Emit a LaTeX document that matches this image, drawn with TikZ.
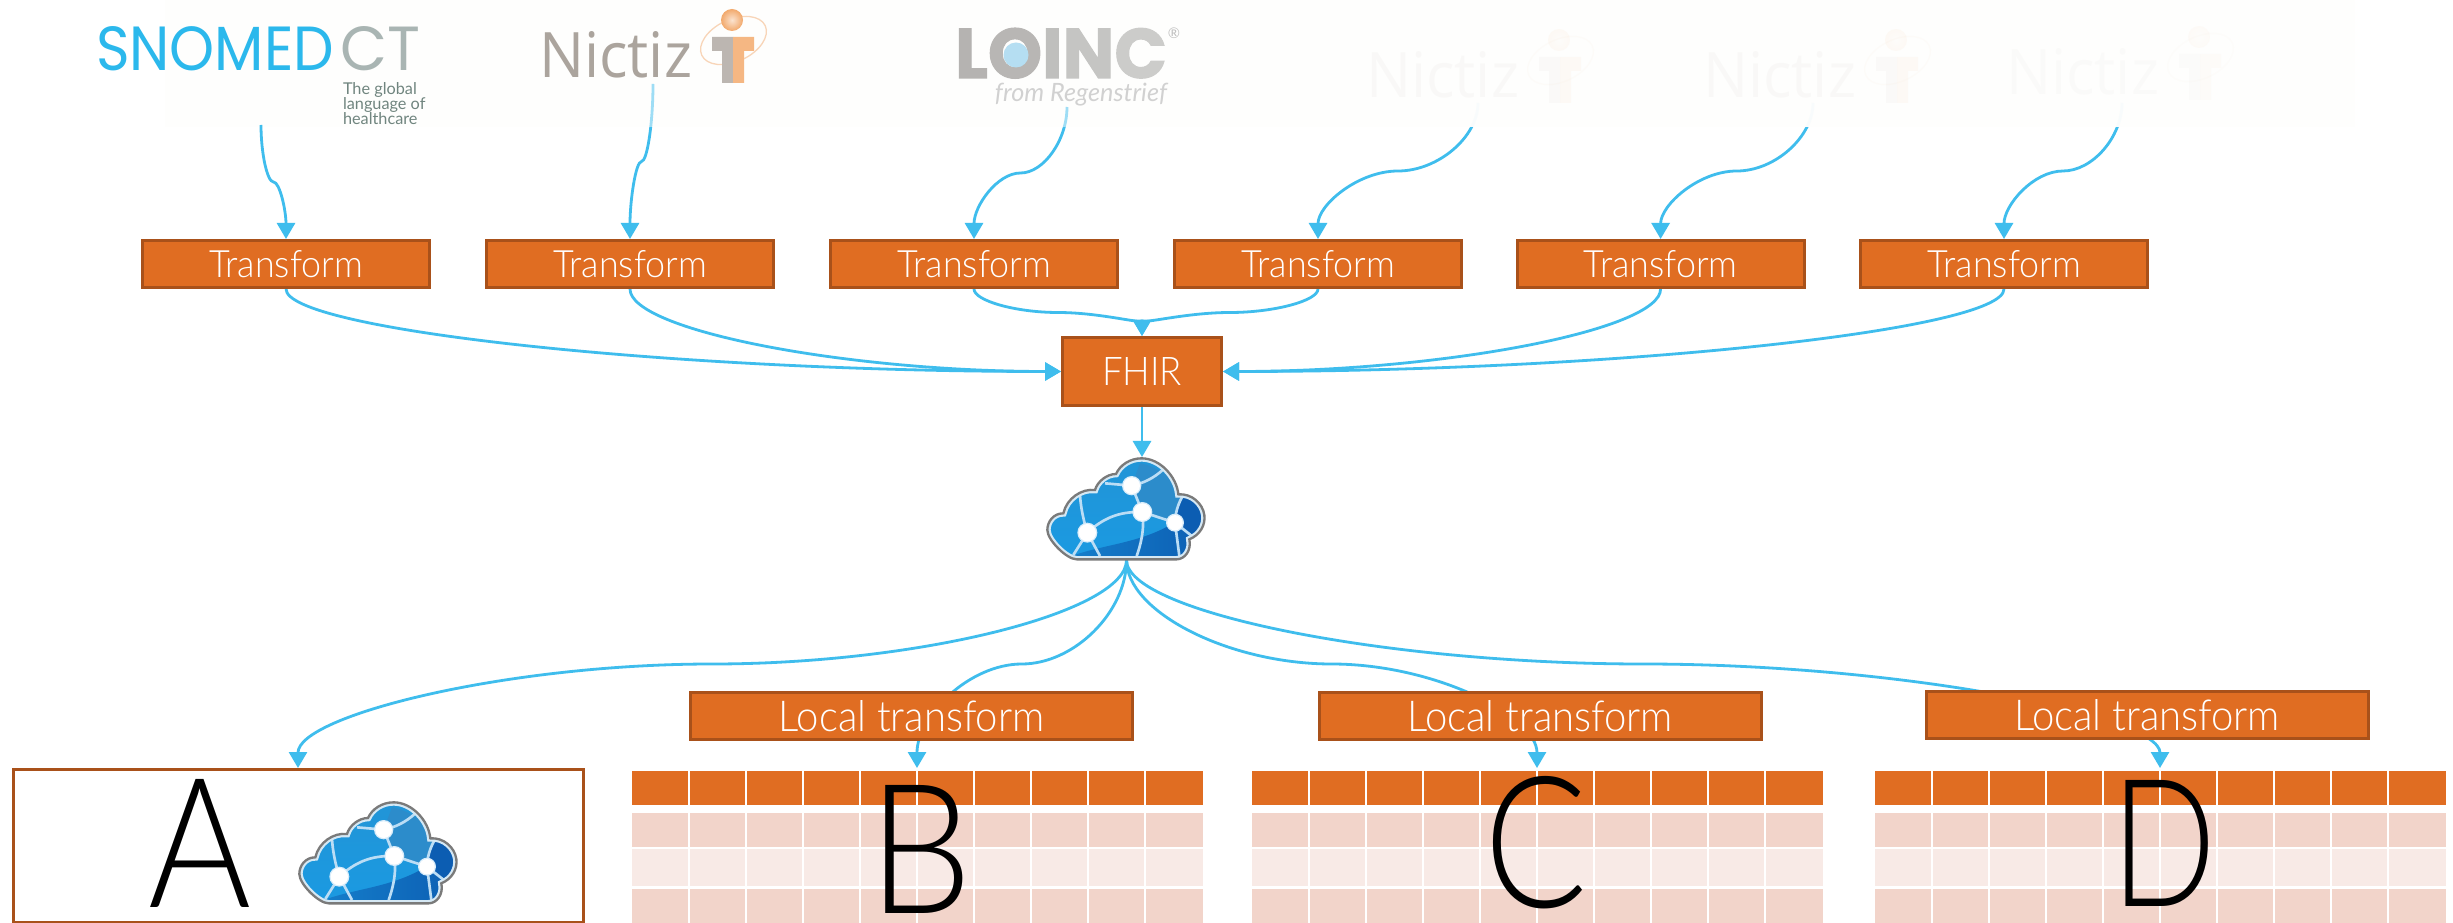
\documentclass[tikz,border=0pt]{standalone}
\usepackage{fontspec}
\usepackage{graphicx}
\setmainfont{Lato}
\newfontfamily\lightf{Lato Light}
\newfontfamily\popf{Poppins}
\newfontfamily\latof{Lato}
\newfontfamily\opensf{Open Sans}
\newfontfamily\loincf[BoldFeatures={FakeBold=1.5}]{Poppins}
\usetikzlibrary{arrows.meta,calc}
\pgfdeclarelayer{bg}\pgfdeclarelayer{conn}\pgfdeclarelayer{fade}
\pgfsetlayers{bg,conn,fade,main}
\def\px{*0.75pt}
\newdimen\ptx \ptx=0.75pt
\newcommand{\wtext}[3]{\resizebox{#1\ptx}{#2\ptx}{\lightf #3}}
\newcommand{\bigletter}[3]{\resizebox{#1\ptx}{#2\ptx}{\lightf #3}}
\definecolor{boxfill}{HTML}{E06D22}
\definecolor{boxline}{HTML}{A9511A}
\definecolor{conncol}{HTML}{3FBDED}
\definecolor{rowa}{HTML}{F2D4CA}
\definecolor{rowb}{HTML}{F8EAE6}
\definecolor{snoblue}{HTML}{2BB8EC}
\definecolor{snogrey}{HTML}{A9B5B3}
\definecolor{snotag}{HTML}{70857F}
\definecolor{nicgrey}{HTML}{ABA49D}
\definecolor{nicorange}{HTML}{F5B783}
\definecolor{nicball}{HTML}{F2A96C}
\definecolor{nicshine}{HTML}{FBE3CF}
\definecolor{nicring}{HTML}{F8D5B8}
\definecolor{tint}{HTML}{FEFEFD}
\definecolor{loincblue}{HTML}{B5DEF2}
\definecolor{cloudtop}{HTML}{2294D6}
\definecolor{cloudmid}{HTML}{1A9AE2}
\definecolor{cloudlow}{HTML}{1580CC}
\definecolor{clouddark}{HTML}{0C5DB2}
\definecolor{cloudhi}{HTML}{2C8CCB}
\definecolor{cloudline}{HTML}{BBDDF5}
\definecolor{cloudedge}{HTML}{D5E8F4}
\definecolor{cloudgrey}{HTML}{7A7A7A}
\definecolor{cloudhalo}{HTML}{D8ECFA}
\tikzset{
  obox/.style={draw=boxline,fill=boxfill,line width=3\px,text=white,inner sep=0pt,outer sep=1.5\px,minimum width=287\px,minimum height=47\px},
  ltbox/.style={obox,minimum width=442\px},
  hidden/.style={inner sep=0pt,outer sep=0pt},
  conn/.style={draw=conncol,line width=2.8\px,-{Triangle[length=16\px,width=18\px]}},
  sconn/.style={to path={let \p1=(\tikztostart),\p2=(\tikztotarget) in
    .. controls (\x1,{(3*\y1+\y2)/4}) and ({(3*\x1+\x2)/4},{(\y1+\y2)/2}) .. ({(\x1+\x2)/2},{(\y1+\y2)/2})
    .. controls ({(\x1+3*\x2)/4},{(\y1+\y2)/2}) and (\x2,{(\y1+3*\y2)/4}) .. (\tikztotarget)}},
  qconn/.style={to path={let \p1=(\tikztostart),\p2=(\tikztotarget) in
    .. controls (\x1,{(\y1+\y2)/2}) and ({(\x1+\x2)/2},\y2) .. (\tikztotarget)}},
  nictiz/.pic={
    \draw[draw=nicring,line width=1.3\px] (190.5,40.5) ellipse [x radius=35,y radius=21,rotate=25];
    \shade[inner color=nicshine,outer color=nicball] (189,20) circle (11);
    \fill[nicgrey!80] (169,37) rectangle (190,51) (179,51) rectangle (190,83);
    \fill[nicorange] (190,37) rectangle (211,51) (190,51) rectangle (201,83);
    \node[hidden,anchor=base west,text=nicgrey] (txt) at (-4,78) {\resizebox{153\ptx}{46\ptx}{\opensf Nictiz}};
  },
  cloudpic/.pic={
    \begin{scope}[shift={(-86,-59)},x=.25pt,y=-.25pt]
      \def\cloudpath{(110,328) -- (410,328) .. controls (435,328) and (455,300) .. (448,268)
        .. controls (480,255) and (497,225) .. (493,195)
        .. controls (488,160) and (455,130) .. (415,133)
        .. controls (410,80) and (360,25) .. (305,25)
        .. controls (270,25) and (240,45) .. (228,72)
        .. controls (200,72) and (172,95) .. (165,120)
        .. controls (125,115) and (80,145) .. (70,190)
        .. controls (40,190) and (22,215) .. (22,240)
        .. controls (22,270) and (80,328) .. (110,328) -- cycle}
      \begin{scope}
        \clip \cloudpath;
        \shade[top color=cloudtop,bottom color=cloudmid] (0,0) rectangle (520,340);
        \fill[cloudhi] (300,40) .. controls (360,50) and (420,100) .. (425,140) -- (405,218) -- (307,186) -- (275,107) -- cycle;
        \shade[left color=cloudlow,right color=clouddark] (60,340) -- (90,320) .. controls (180,285) and (300,280) .. (395,222) -- (520,240) -- (520,340) -- cycle;
        \fill[clouddark] (425,135) -- (405,218) -- (455,260) -- (520,260) -- (520,120) -- cycle;
        \draw[cloudline,line width=8*.25pt,fill=none]
          (120,135) .. controls (122,170) and (130,210) .. (142,248)
          (142,248) -- (100,315) (142,248) -- (180,318)
          (142,248) .. controls (200,195) and (250,185) .. (307,186)
          (307,186) -- (275,107) (307,186) -- (405,218)
          (307,186) .. controls (315,240) and (300,290) .. (290,318)
          (405,218) .. controls (405,190) and (415,160) .. (428,138)
          (405,218) -- (418,318) (405,218) -- (458,260)
          (275,107) .. controls (310,100) and (340,85) .. (368,60)
          (275,107) -- (195,100);
        \draw[cloudedge,line width=20*.25pt] \cloudpath;
      \end{scope}
      \draw[cloudgrey,line width=7*.25pt] \cloudpath;
      \foreach \cx/\cy/\cr in {142/248/30,307/186/30,405/218/27,275/107/29}{
        \fill[cloudhalo] (\cx,\cy) circle ({\cr*.25pt});
        \fill[white] (\cx,\cy) circle ({(\cr-4)*.25pt});
      }
    \end{scope}
  },
  tablegrid/.pic={
    \fill[boxfill] (0,1) rectangle (571,35);
    \fill[rowa] (0,43) rectangle (571,77);
    \fill[rowb] (0,79) rectangle (571,116);
    \fill[rowa] (0,119) rectangle (571,153);
    \foreach \k in {1,...,9}{\draw[white,line width=2\px] ({\k*57.1},0) -- ({\k*57.1},153);}
  },
}
\begin{document}
\begin{tikzpicture}[x=0.75pt,y=-0.75pt]
\useasboundingbox (0,0) rectangle (2453,923);
\begin{pgfonlayer}{bg}
  \fill[white] (0,0) rectangle (2453,923);
  \fill[tint] (165,0) rectangle (2355,127);
\end{pgfonlayer}
\begin{pgfonlayer}{fade}
  \fill[tint,opacity=.5] (530,0) rectangle (1250,127);
  \fill[tint,opacity=.97] (1250,0) rectangle (2355,127);
\end{pgfonlayer}

% logo frames (connector start points)
\node[hidden,minimum width=326\px,minimum height=125\px] (logoA) at (261,62.5) {};
\node[hidden,minimum width=222\px,minimum height=84\px] (logoB) at (653,42) {};
\node[hidden,minimum width=223\px,minimum height=107\px] (logoC) at (1067,53.5) {};
\node[hidden,minimum width=222\px,minimum height=103\px] (logoD) at (1478,51.5) {};
\node[hidden,minimum width=222\px,minimum height=103\px] (logoE) at (1813,51.5) {};
\node[hidden,minimum width=222\px,minimum height=103\px] (logoF) at (2122,51.5) {};

% SNOMED CT
\node[hidden,anchor=base west,text=snoblue] (sno) at (96,71) {\resizebox{238\ptx}{44\ptx}{\popf SNOMED}};
\node[hidden,anchor=base west,text=snogrey] (ct) at (340,71) {\resizebox{80\ptx}{44\ptx}{\popf CT}};
\node[hidden,anchor=north west,text=snotag,align=left,font=\latof\fontsize{12.2}{11.25}\selectfont] (tag) at (343,83) {The global\\language of\\healthcare};

% Nictiz logos
\pic (nicA) at (543,0) {nictiz};
\pic[opacity=.06] (nicB) at (1370,20) {nictiz};
\pic[opacity=.06] (nicC) at (1707,20) {nictiz};
\pic[opacity=.04] (nicD) at (2010,17) {nictiz};

% LOINC
\node[hidden,anchor=base west] (loinc) at (955,78) {\resizebox{212\ptx}{50\ptx}{\loincf\bfseries\textcolor[HTML]{B5B3B1}{L}\textcolor[HTML]{B8B6B4}{O}\textcolor[HTML]{BFBFBD}{I}\textcolor[HTML]{C5C5C3}{N}\textcolor[HTML]{CCCCCA}{C}}};
\fill[loincblue] (1016,55) circle (12.5);
\node[hidden,anchor=center,text=black!18] (reg) at (1081,95) {\resizebox{172\ptx}{!}{\latof\itshape from Regenstrief}};
\node[hidden,text=black!25] (regmark) at (1174,33) {\fontsize{11}{12}\selectfont\latof ®};

% transforms
\node[obox] (t1) at (286,264) {\wtext{154}{27}{Transform}};
\node[obox] (t2) at (630,264) {\wtext{154}{27}{Transform}};
\node[obox] (t3) at (974,264) {\wtext{154}{27}{Transform}};
\node[obox] (t4) at (1318,264) {\wtext{154}{27}{Transform}};
\node[obox] (t5) at (1660.6,264) {\wtext{154}{27}{Transform}};
\node[obox] (t6) at (2004,264) {\wtext{154}{27}{Transform}};
\node[obox,minimum width=159\px,minimum height=68\px] (fhir) at (1142,371.5) {\wtext{80}{28}{FHIR}};

% cloud
\node[hidden,minimum width=158\px,minimum height=103\px] (cloud) at (1126.5,508.5) {};
\pic at (1126,509) {cloudpic};

% A
\node[draw=boxline,fill=white,line width=3\px,inner sep=0pt,outer sep=1.5\px,minimum width=570\px,minimum height=153\px] (boxA) at (298,846) {};
\node[hidden] (letA) at (200,843) {\bigletter{103}{128}{A}};
\pic at (378,853) {cloudpic};

% tables
\node[hidden,outer sep=2\px,minimum width=571\px,minimum height=153\px] (tabB) at (917,846.5) {};
\node[hidden,outer sep=2\px,minimum width=571\px,minimum height=153\px] (tabC) at (1537,846.5) {};
\node[hidden,outer sep=2\px,minimum width=571\px,minimum height=153\px] (tabD) at (2160,846.5) {};
\pic at (631.5,770) {tablegrid};
\pic at (1251.5,770) {tablegrid};
\pic at (1874.5,770) {tablegrid};
\node[hidden] (letB) at (921,849) {\bigletter{104}{128}{B}};
\node[hidden] (letC) at (1536,842.5) {\bigletter{103}{131}{C}};
\node[hidden] (letD) at (2164,843) {\bigletter{105}{126}{D}};

% local transforms
\node[obox,ltbox] (lt1) at (911.5,716) {\wtext{266}{31}{Local transform}};
\node[obox,ltbox] (lt2) at (1540,716) {\wtext{266}{31}{Local transform}};
\node[obox,ltbox] (lt3) at (2147,715) {\wtext{266}{31}{Local transform}};

\begin{pgfonlayer}{conn}
  \draw[conn,sconn] (logoA.south) to (t1.north);
  \draw[conn,sconn] (logoB.south) to (t2.north);
  \draw[conn,sconn] (logoC.south) to (t3.north);
  \draw[conn,sconn] (logoD.south) to (t4.north);
  \draw[conn,sconn] (logoE.south) to (t5.north);
  \draw[conn,sconn] (logoF.south) to (t6.north);
  \draw[conn,qconn] (t1.south) to (fhir.west);
  \draw[conn,qconn] (t2.south) to (fhir.west);
  \draw[conn,sconn] (t3.south) to (fhir.north);
  \draw[conn,sconn] (t4.south) to (fhir.north);
  \draw[conn,qconn] (t5.south) to (fhir.east);
  \draw[conn,qconn] (t6.south) to (fhir.east);
  \draw[conn] (fhir.south) -- (fhir.south |- cloud.north);
  \draw[conn,sconn] (cloud.south) to (boxA.north);
  \draw[conn,sconn] (cloud.south) to (tabB.north);
  \draw[conn,sconn] (cloud.south) to (tabC.north);
  \draw[conn,sconn] (cloud.south) to (tabD.north);
\end{pgfonlayer}
\end{tikzpicture}
\end{document}
